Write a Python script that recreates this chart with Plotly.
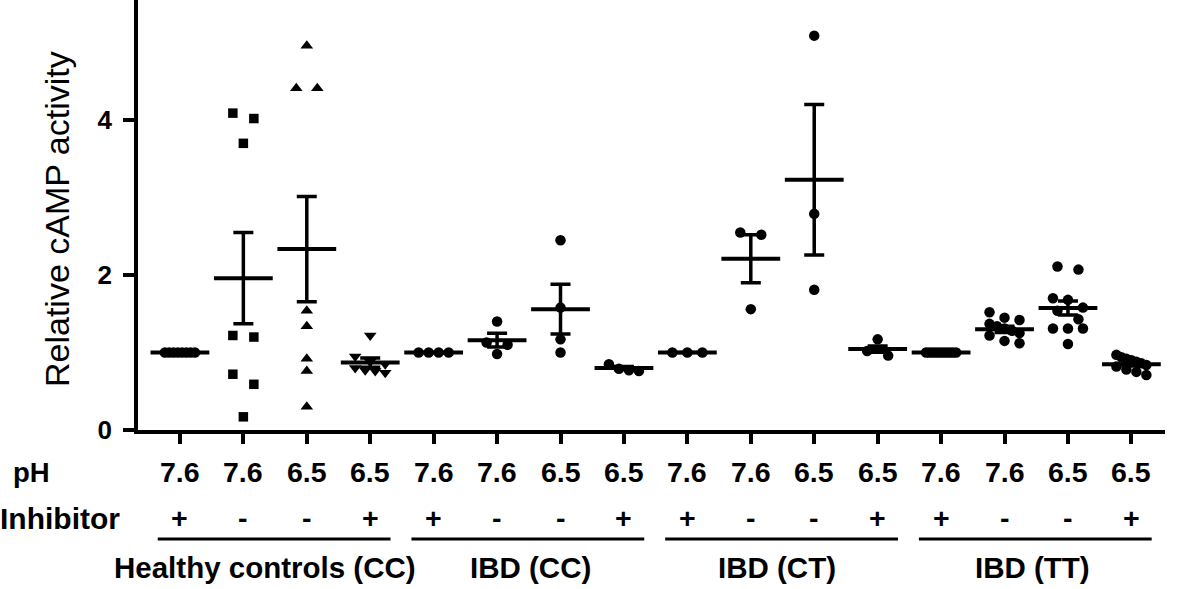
import numpy as np
import plotly.graph_objects as go

# ---------------- data ----------------
groups = ["Healthy controls (CC)", "IBD (CC)", "IBD (CT)", "IBD (TT)"]
ph_labels = ["7.6", "7.6", "6.5", "6.5", "7.6", "7.6", "6.5", "6.5",
             "7.6", "7.6", "6.5", "6.5", "7.6", "7.6", "6.5", "6.5"]
inhibitor_labels = ["+", "-", "-", "+", "+", "-", "-", "+",
                    "+", "-", "-", "+", "+", "-", "-", "+"]
y_ticks = [0, 2, 4]
y_tick_text = ["0", "2", "4"]

hc_ph76_inh = [1.0, 1.0, 1.0, 1.0, 1.0, 1.0, 1.0, 1.0]
hc_ph76 = [4.09, 4.02, 3.70, 1.22, 1.20, 0.72, 0.59, 0.17]
hc_ph65 = [4.96, 4.41, 4.41, 1.54, 1.34, 0.92, 0.76, 0.30]
hc_ph65_inh = [1.22, 0.95, 0.88, 0.85, 0.80, 0.77, 0.76, 0.74]

cc_ph76_inh = [1.0, 1.0, 1.0, 1.0]
cc_ph76 = [1.40, 1.13, 1.10, 0.98]
cc_ph65 = [2.45, 1.58, 1.17, 1.00]
cc_ph65_inh = [0.85, 0.79, 0.77, 0.76]

ct_ph76_inh = [1.0, 1.0, 1.0]
ct_ph76 = [2.55, 2.52, 1.56]
ct_ph65 = [5.09, 2.79, 1.81]
ct_ph65_inh = [1.17, 1.02, 0.96]

tt_ph76_inh = [1.0, 1.0, 1.0, 1.0, 1.0, 1.0, 1.0, 1.0, 1.0, 1.0, 1.0]
tt_ph76 = [1.52, 1.45, 1.42, 1.37, 1.34, 1.31, 1.28, 1.25, 1.22, 1.15, 1.12]
tt_ph65 = [2.11, 2.07, 1.70, 1.68, 1.58, 1.54, 1.43, 1.31, 1.31, 1.31, 1.11]
tt_ph65_inh = [0.97, 0.94, 0.92, 0.90, 0.88, 0.86, 0.84, 0.82, 0.78, 0.75, 0.71]

column_values = [hc_ph76_inh, hc_ph76, hc_ph65, hc_ph65_inh,
                 cc_ph76_inh, cc_ph76, cc_ph65, cc_ph65_inh,
                 ct_ph76_inh, ct_ph76, ct_ph65, ct_ph65_inh,
                 tt_ph76_inh, tt_ph76, tt_ph65, tt_ph65_inh]

means = [1.0, 1.96, 2.335, 0.87, 1.0, 1.16, 1.56, 0.80,
         1.0, 2.21, 3.23, 1.045, 1.0, 1.30, 1.575, 0.85]
sems = [0.0, 0.59, 0.68, 0.06, 0.0, 0.09, 0.32, 0.02,
        0.0, 0.31, 0.97, 0.04, 0.0, 0.04, 0.09, 0.025]

symbols = ["circle", "square", "triangle-up", "triangle-down"] + ["circle"] * 12
symbol_sizes = {"circle": 10.5, "square": 9.5, "triangle-up": 11, "triangle-down": 11}

# ---------------- layout geometry ----------------
W, H = 1181, 589
m_l, m_r, m_t, m_b = 138, 16, 0, 159
plot_w = W - m_l - m_r
plot_h = H - m_t - m_b
x_range = [-0.661, 15.53]
y_range = [0, 5.55]
px_per_x = plot_w / (x_range[1] - x_range[0])
px_per_y = plot_h / (y_range[1] - y_range[0])


def swarm_offsets(values, gap_px=11.5, max_width_px=30.0, max_step_px=21.0):
    """Spread points of similar value horizontally (scatter dot plot style)."""
    vals = np.asarray(values, dtype=float)
    order = np.argsort(-vals, kind="stable")
    offsets = np.zeros(len(vals))
    clusters, current = [], [order[0]]
    for idx in order[1:]:
        if (vals[current[0]] - vals[idx]) * px_per_y < gap_px:
            current.append(idx)
        else:
            clusters.append(current)
            current = [idx]
    clusters.append(current)
    for c in clusters:
        k = len(c)
        if k == 1:
            continue
        step = min(max_step_px, max_width_px / (k - 1))
        for j, idx in enumerate(c):
            offsets[idx] = (j - (k - 1) / 2) * step / px_per_x
    return offsets


fig = go.Figure()

for i, vals in enumerate(column_values):
    offs = swarm_offsets(vals)
    fig.add_trace(go.Scatter(
        x=i + offs, y=vals, mode="markers",
        marker=dict(symbol=symbols[i], size=symbol_sizes[symbols[i]],
                    color="black", line=dict(width=0)),
        showlegend=False, hoverinfo="y"))

# mean +/- SEM
fig.add_trace(go.Scatter(
    x=list(range(len(means))), y=means, mode="markers",
    marker=dict(symbol="line-ew", size=42, color="black",
                line=dict(width=4, color="black")),
    error_y=dict(type="data", array=sems, visible=True, width=10,
                 thickness=3.5, color="black"),
    showlegend=False, hoverinfo="y"))

font_family = "Liberation Sans, Arial, sans-serif"
annotations = []

# pH and inhibitor rows
for i, (ph, inh) in enumerate(zip(ph_labels, inhibitor_labels)):
    annotations.append(dict(x=i, y=0, xref="x", yref="paper", text="<b>%s</b>" % ph,
                            showarrow=False, xanchor="center", yanchor="middle",
                            yshift=-42, font=dict(size=28.5, color="black", family=font_family)))
    annotations.append(dict(x=i, y=0, xref="x", yref="paper", text="<b>%s</b>" % inh,
                            showarrow=False, xanchor="center", yanchor="middle",
                            yshift=-88, font=dict(size=28.5, color="black", family=font_family)))

annotations.append(dict(x=0, y=0, xref="paper", yref="paper", text="<b>pH</b>",
                        showarrow=False, xanchor="left", yanchor="middle",
                        xshift=11 - m_l, yshift=-42,
                        font=dict(size=27.5, color="black", family=font_family)))
annotations.append(dict(x=0, y=0, xref="paper", yref="paper", text="<b>Inhibitor</b>",
                        showarrow=False, xanchor="left", yanchor="middle",
                        xshift=-2 - m_l, yshift=-88,
                        font=dict(size=30, color="black", family=font_family)))

shapes = []
line_y = (430 - 539) / plot_h
group_label_shift = [-10, 2, -6, -4]
for g, name in enumerate(groups):
    first, last = 4 * g, 4 * g + 3
    shapes.append(dict(type="line", xref="x", yref="paper",
                       x0=first - 0.35, x1=last + 0.32, y0=line_y, y1=line_y,
                       line=dict(color="black", width=3)))
    annotations.append(dict(x=(first + last) / 2, y=0, xref="x", yref="paper",
                            text="<b>%s</b>" % name, showarrow=False,
                            xanchor="center", yanchor="middle", yshift=-137,
                            xshift=group_label_shift[g],
                            font=dict(size=29.5, color="black", family=font_family)))

# y-axis title
annotations.append(dict(x=0, y=0.5, xref="paper", yref="paper",
                        text="Relative cAMP activity", textangle=-90,
                        showarrow=False, xanchor="center", yanchor="middle",
                        xshift=57 - m_l, yshift=-4,
                        font=dict(size=34, color="black", family=font_family)))

fig.update_layout(
    width=W, height=H,
    margin=dict(l=m_l, r=m_r, t=m_t, b=m_b, pad=0),
    plot_bgcolor="white", paper_bgcolor="white",
    annotations=annotations, shapes=shapes,
    xaxis=dict(range=x_range, showgrid=False, zeroline=False,
               showline=True, linecolor="black", linewidth=3.5,
               ticks="outside", ticklen=10, tickwidth=3.5, tickcolor="black",
               tickvals=list(range(16)), showticklabels=False),
    yaxis=dict(range=y_range, showgrid=False, zeroline=False,
               showline=True, linecolor="black", linewidth=3.5,
               ticks="outside", ticklen=11, tickwidth=3.5, tickcolor="black",
               tickvals=y_ticks, ticktext=y_tick_text, ticklabelstandoff=6,
               tickfont=dict(size=26, color="black", family=font_family, weight="bold")),
)

fig.write_html("out.html", config={"displayModeBar": False},
               post_script="document.body.style.margin='0px';")
